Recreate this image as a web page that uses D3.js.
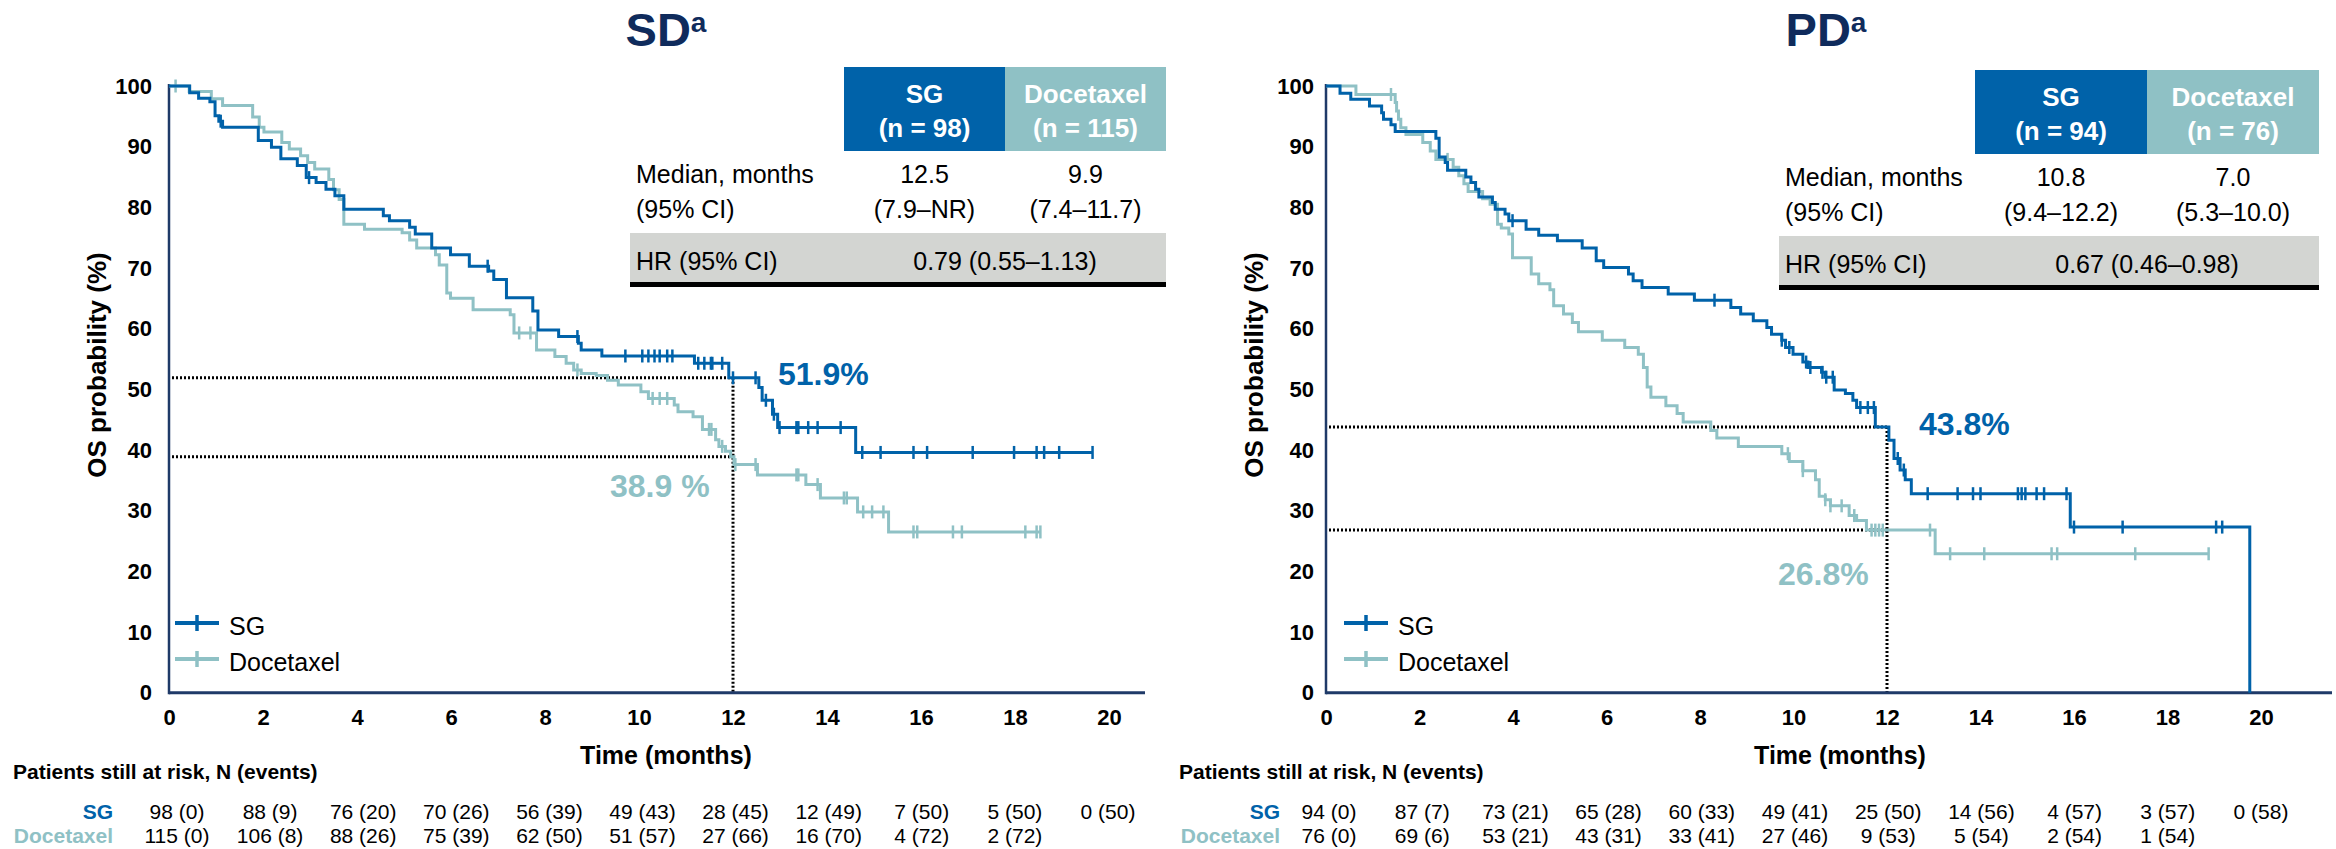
<!DOCTYPE html>
<html>
<head>
<meta charset="utf-8">
<script src="https://cdn.jsdelivr.net/npm/d3@7"></script>
<style>
  body { margin: 0; background: #fff; }
  text { font-family: Arial, "Liberation Sans", sans-serif; }
</style>
</head>
<body>
<svg id="chart" width="2336" height="849"></svg>
<script>
// ---- data ----
const months = [0, 2, 4, 6, 8, 10, 12, 14, 16, 18, 20];
const yTicks = [0, 10, 20, 30, 40, 50, 60, 70, 80, 90, 100];
const arms = ["SG", "Docetaxel"];

// SD panel: Kaplan-Meier steps [month, OS %]
const sdSgSteps = [[0,100],[0.44,98.9],[0.63,98.0],[0.87,97.4],[0.98,95.1],[1.06,94.2],[1.14,93.2],[1.9,91.0],[2.18,89.9],[2.38,88.0],[2.73,86.9],[2.92,84.9],[3.13,84.1],[3.34,83.0],[3.53,81.9],[3.72,79.7],[4.56,78.6],[4.69,77.8],[5.12,76.7],[5.24,75.6],[5.59,73.3],[5.99,72.2],[6.39,70.3],[6.8,69.5],[6.91,68.1],[7.18,65.1],[7.74,62.9],[7.85,59.8],[8.29,58.7],[8.71,57.6],[8.77,56.5],[9.21,55.5],[11.18,54.3],[11.91,51.9],[12.55,50.3],[12.62,48.2],[12.84,45.9],[12.95,43.7],[14.61,39.6]];
const sdSgCensor = [1.1,2.98,6.78,8.69,9.71,10.07,10.2,10.33,10.44,10.6,10.71,11.26,11.39,11.53,11.56,11.77,12.0,12.48,12.7,12.87,12.99,13.35,13.39,13.6,13.8,14.29,14.75,15.14,15.84,16.13,17.1,17.98,18.46,18.62,18.94,19.65];
const sdSgEnd = 19.65;
const sdDocSteps = [[0,100],[0.43,99.1],[0.9,97.9],[1.14,96.8],[1.78,94.9],[1.92,93.2],[2.02,92.4],[2.4,90.7],[2.56,89.6],[2.8,88.5],[2.95,87.4],[3.1,86.3],[3.4,84.6],[3.5,82.9],[3.62,81.3],[3.72,77.2],[4.16,76.4],[4.96,75.8],[5.12,74.6],[5.27,73.3],[5.67,72.2],[5.75,70.5],[5.91,65.9],[5.99,65.0],[6.47,63.1],[7.26,62.3],[7.34,59.3],[7.82,56.5],[8.21,55.4],[8.45,54.3],[8.61,53.2],[8.77,52.6],[9.09,52.3],[9.33,51.5],[9.56,50.7],[10.04,49.6],[10.2,48.5],[10.75,47.4],[10.83,46.3],[11.15,45.5],[11.35,43.4],[11.63,41.7],[11.7,40.6],[11.84,39.8],[11.95,38.9],[12.02,37.6],[12.52,35.9],[13.55,34.3],[13.86,32.1],[14.65,29.8],[15.31,26.5]];
const sdDocCensor = [0.14,7.45,7.69,8.69,10.29,10.44,10.6,11.49,11.54,11.77,12.05,12.48,13.35,13.39,13.8,14.36,14.42,14.77,14.96,15.2,15.84,15.92,16.68,16.87,18.22,18.46,18.54];
const sdDocEnd = 18.54;

// PD panel
const pdSgSteps = [[0,100],[0.3,98.8],[0.53,97.8],[0.93,96.7],[1.19,95.6],[1.23,94.5],[1.39,93.6],[1.48,92.5],[2.35,91.4],[2.42,88.3],[2.55,87.4],[2.6,86.1],[2.99,85.0],[3.1,84.1],[3.2,83.0],[3.27,81.7],[3.56,80.8],[3.62,79.7],[3.83,78.9],[3.91,77.8],[4.28,76.4],[4.55,75.4],[4.95,74.5],[5.48,73.3],[5.78,71.2],[5.94,70.1],[6.47,69.0],[6.57,67.9],[6.76,66.8],[7.32,65.7],[7.88,64.7],[8.66,63.5],[8.87,62.4],[9.14,61.3],[9.43,60.2],[9.53,59.1],[9.75,58.1],[9.83,56.9],[9.99,55.8],[10.2,54.5],[10.31,53.6],[10.6,52.8],[10.68,52.0],[10.87,49.9],[11.11,49.3],[11.27,48.2],[11.35,47.0],[11.75,43.8],[12.04,41.6],[12.15,38.6],[12.28,36.7],[12.39,35.1],[12.52,32.8],[15.92,27.3],[19.76,0]];
const pdSgCensor = [3.99,8.31,9.75,9.91,10.27,10.36,10.62,10.7,10.84,11.43,11.59,11.72,12.23,12.36,12.87,13.51,13.84,14.0,14.8,14.88,14.96,15.2,15.36,15.84,16.0,17.04,19.04,19.17];
const pdSgEnd = null;
const pdDocSteps = [[0,100],[0.64,98.6],[1.48,97.3],[1.51,95.9],[1.55,94.5],[1.6,93.1],[1.71,92.0],[2.07,90.7],[2.23,89.3],[2.35,87.9],[2.72,86.6],[2.84,85.2],[2.95,83.9],[3.04,82.6],[3.35,81.4],[3.51,80.5],[3.67,77.2],[3.75,76.6],[3.91,75.6],[3.99,71.7],[4.39,69.0],[4.55,67.4],[4.79,66.4],[4.87,63.8],[5.08,62.4],[5.27,61.0],[5.4,59.5],[5.91,58.1],[6.39,56.9],[6.68,55.8],[6.79,53.6],[6.87,50.4],[6.95,48.7],[7.27,47.3],[7.51,46.0],[7.64,44.6],[8.23,43.2],[8.36,42.0],[8.82,40.6],[9.75,39.4],[9.91,38.1],[10.2,36.6],[10.47,35.1],[10.55,32.4],[10.68,31.8],[10.79,30.8],[11.19,29.2],[11.35,28.4],[11.56,26.8],[13.03,22.9]];
const pdDocCensor = [1.39,2.6,9.88,10.2,10.68,10.79,11.03,11.3,11.67,11.75,11.83,11.91,12.92,13.35,14.08,15.52,15.64,17.31,18.88];
const pdDocEnd = 18.88;

// 12-month landmark values
const sdLandmark = [51.9, 38.9];
const sdLandmarkLabels = ["51.9%", "38.9 %"];
const pdLandmark = [43.8, 26.8];
const pdLandmarkLabels = ["43.8%", "26.8%"];

// summary tables
const sdHeaderN = ["(n = 98)", "(n = 115)"];
const sdMedian = ["12.5", "9.9"];
const sdMedianCI = ["(7.9–NR)", "(7.4–11.7)"];
const sdHR = "0.79 (0.55–1.13)";
const pdHeaderN = ["(n = 94)", "(n = 76)"];
const pdMedian = ["10.8", "7.0"];
const pdMedianCI = ["(9.4–12.2)", "(5.3–10.0)"];
const pdHR = "0.67 (0.46–0.98)";

// patients at risk
const sdRiskSG = ["98 (0)","88 (9)","76 (20)","70 (26)","56 (39)","49 (43)","28 (45)","12 (49)","7 (50)","5 (50)","0 (50)"];
const sdRiskDoc = ["115 (0)","106 (8)","88 (26)","75 (39)","62 (50)","51 (57)","27 (66)","16 (70)","4 (72)","2 (72)"];
const pdRiskSG = ["94 (0)","87 (7)","73 (21)","65 (28)","60 (33)","49 (41)","25 (50)","14 (56)","4 (57)","3 (57)","0 (58)"];
const pdRiskDoc = ["76 (0)","69 (6)","53 (21)","43 (31)","33 (41)","27 (46)","9 (53)","5 (54)","2 (54)","1 (54)"];

// ---- drawing ----
const SG_COL = "#0062a9", DOC_COL = "#8fc1c5", NAVY = "#0f2b5c", AXIS_COL = "#1f3a68";
const FONT = "Arial, 'Liberation Sans', sans-serif";
const svg = d3.select("#chart");

function stepValue(steps, t) {
    let v = steps[0][1];
    for (const s of steps) if (s[0] <= t) v = s[1];
    return v;
}

function drawPanel(p) {
    const x = d3.scaleLinear().domain([0, 20]).range([p.x0, p.x20]);
    const y = d3.scaleLinear().domain([0, 100]).range([692.7, 86]);
    const g = svg.append("g");

    // title
    const title = g.append("text")
        .attr("x", p.titleX).attr("y", 46)
        .attr("text-anchor", "middle")
        .attr("font-size", 47).attr("font-weight", "bold")
        .attr("fill", NAVY)
        .text(p.title);
    title.append("tspan").attr("dy", -14).attr("font-size", 28).text("a");

    // dotted 12-month reference lines
    const x12 = x(12);
    p.landmark.forEach(v => {
        g.append("line")
            .attr("x1", p.x0 + 3).attr("x2", x12)
            .attr("y1", y(v)).attr("y2", y(v))
            .attr("stroke", "#000").attr("stroke-width", 3)
            .attr("stroke-dasharray", "2,2");
    });
    g.append("line")
        .attr("x1", x12).attr("x2", x12)
        .attr("y1", y(p.landmark[0])).attr("y2", y(0))
        .attr("stroke", "#000").attr("stroke-width", 3)
        .attr("stroke-dasharray", "2,2");

    // axes
    const xAxis = g.append("g")
        .attr("transform", `translate(0,${y(0)})`)
        .call(d3.axisBottom(x).tickValues(months).tickSize(0).tickPadding(17));
    xAxis.select(".domain").remove();
    xAxis.attr("font-family", FONT).attr("font-size", 22).attr("font-weight", "bold");
    xAxis.selectAll("text").attr("fill", "#000");

    const yAxis = g.append("g")
        .attr("transform", `translate(${p.x0},0)`)
        .call(d3.axisLeft(y).tickValues(yTicks).tickSize(0).tickPadding(p.yPad));
    yAxis.select(".domain").remove();
    yAxis.attr("font-family", FONT).attr("font-size", 22).attr("font-weight", "bold");
    yAxis.selectAll("text").attr("fill", "#000");

    g.append("line")
        .attr("x1", p.x0).attr("x2", p.xEnd)
        .attr("y1", y(0)).attr("y2", y(0))
        .attr("stroke", AXIS_COL).attr("stroke-width", 3);
    g.append("line")
        .attr("x1", p.x0).attr("x2", p.x0)
        .attr("y1", y(0) + 1.5).attr("y2", y(100) - 2)
        .attr("stroke", AXIS_COL).attr("stroke-width", 2.5);

    g.append("text")
        .attr("transform", `translate(${p.yLabelX},365) rotate(-90)`)
        .attr("text-anchor", "middle")
        .attr("font-size", 26).attr("font-weight", "bold")
        .text("OS probability (%)");
    g.append("text")
        .attr("x", p.xLabelX).attr("y", 764)
        .attr("text-anchor", "middle")
        .attr("font-size", 25).attr("font-weight", "bold")
        .text("Time (months)");

    // curves
    const line = d3.line().x(d => x(d[0])).y(d => y(d[1])).curve(d3.curveStepAfter);
    p.series.forEach(s => {
        const pts = s.end != null ? s.steps.concat([[s.end, s.steps[s.steps.length - 1][1]]]) : s.steps;
        g.append("path").datum(pts)
            .attr("fill", "none").attr("stroke", s.color).attr("stroke-width", 3)
            .attr("d", line);
        g.selectAll(null).data(s.censor).join("line")
            .attr("x1", d => x(d)).attr("x2", d => x(d))
            .attr("y1", d => y(stepValue(s.steps, d)) - 6.5)
            .attr("y2", d => y(stepValue(s.steps, d)) + 6.5)
            .attr("stroke", s.color).attr("stroke-width", 2.5);
    });

    // landmark labels
    p.landmarkLabels.forEach((t, i) => {
        g.append("text")
            .attr("x", p.lmPos[i][0]).attr("y", p.lmPos[i][1])
            .attr("font-size", 32).attr("font-weight", "bold")
            .attr("fill", i === 0 ? SG_COL : DOC_COL)
            .text(t);
    });

    // legend
    arms.forEach((a, i) => {
        const ly = 623 + i * 36;
        const col = i === 0 ? SG_COL : DOC_COL;
        g.append("line").attr("x1", p.legX).attr("x2", p.legX + 44)
            .attr("y1", ly).attr("y2", ly)
            .attr("stroke", col).attr("stroke-width", 4);
        g.append("line").attr("x1", p.legX + 22).attr("x2", p.legX + 22)
            .attr("y1", ly - 8).attr("y2", ly + 8)
            .attr("stroke", col).attr("stroke-width", 3.5);
        g.append("text").attr("x", p.legX + 54).attr("y", ly + 12)
            .attr("font-size", 25).attr("fill", "#000").text(a);
    });

    // summary table
    const t = p.table, dy = t.dy;
    const colW = t.colW;
    const cols = [t.left, t.left + colW];
    [SG_COL, DOC_COL].forEach((c, i) => {
        g.append("rect").attr("x", cols[i]).attr("y", 67 + dy)
            .attr("width", colW).attr("height", 84).attr("fill", c);
        g.append("text").attr("x", cols[i] + colW / 2).attr("y", 103 + dy)
            .attr("text-anchor", "middle").attr("font-size", 26).attr("font-weight", "bold")
            .attr("fill", "#fff").text(arms[i]);
        g.append("text").attr("x", cols[i] + colW / 2).attr("y", 137 + dy)
            .attr("text-anchor", "middle").attr("font-size", 26).attr("font-weight", "bold")
            .attr("fill", "#fff").text(p.headerN[i]);
        g.append("text").attr("x", cols[i] + colW / 2).attr("y", 183 + dy)
            .attr("text-anchor", "middle").attr("font-size", 25).text(p.median[i]);
        g.append("text").attr("x", cols[i] + colW / 2).attr("y", 218 + dy)
            .attr("text-anchor", "middle").attr("font-size", 25).text(p.medianCI[i]);
    });
    g.append("text").attr("x", t.rowX + 6).attr("y", 183 + dy).attr("font-size", 25).text("Median, months");
    g.append("text").attr("x", t.rowX + 6).attr("y", 218 + dy).attr("font-size", 25).text("(95% CI)");
    g.append("rect").attr("x", t.rowX).attr("y", 233 + dy)
        .attr("width", t.left + 2 * colW - t.rowX).attr("height", 49).attr("fill", "#d3d5d2");
    g.append("rect").attr("x", t.rowX).attr("y", 282 + dy)
        .attr("width", t.left + 2 * colW - t.rowX).attr("height", 5).attr("fill", "#000");
    g.append("text").attr("x", t.rowX + 6).attr("y", 270 + dy).attr("font-size", 25).text("HR (95% CI)");
    g.append("text").attr("x", t.left + colW).attr("y", 270 + dy)
        .attr("text-anchor", "middle").attr("font-size", 25).text(p.hr);

    // patients at risk
    g.append("text").attr("x", p.riskTitleX).attr("y", 779)
        .attr("font-size", 21).attr("font-weight", "bold").text("Patients still at risk, N (events)");
    const rx = d3.scaleLinear().domain([0, 20]).range(p.riskRange);
    [p.riskSG, p.riskDoc].forEach((row, i) => {
        const ry = 819 + i * 24;
        g.append("text").attr("x", p.riskLabelX).attr("y", ry)
            .attr("text-anchor", "end").attr("font-size", 21).attr("font-weight", "bold")
            .attr("fill", i === 0 ? SG_COL : DOC_COL).text(arms[i]);
        g.selectAll(null).data(row).join("text")
            .attr("x", (d, j) => rx(months[j])).attr("y", ry)
            .attr("text-anchor", "middle").attr("font-size", 21).attr("fill", "#000")
            .text(d => d);
    });
}

drawPanel({
    title: "SD", titleX: 666,
    x0: 169, x20: 1109, xEnd: 1145, yPad: 17,
    yLabelX: 106, xLabelX: 666,
    landmark: sdLandmark, landmarkLabels: sdLandmarkLabels,
    lmPos: [[778, 385], [610, 497]],
    legX: 175,
    series: [
        { steps: sdDocSteps, censor: sdDocCensor, end: sdDocEnd, color: DOC_COL },
        { steps: sdSgSteps, censor: sdSgCensor, end: sdSgEnd, color: SG_COL }
    ],
    table: { left: 844, colW: 161, rowX: 630, dy: 0 },
    headerN: sdHeaderN, median: sdMedian, medianCI: sdMedianCI, hr: sdHR,
    riskTitleX: 13, riskLabelX: 113, riskRange: [177, 1108],
    riskSG: sdRiskSG, riskDoc: sdRiskDoc
});

drawPanel({
    title: "PD", titleX: 1826,
    x0: 1326, x20: 2261, xEnd: 2332, yPad: 12,
    yLabelX: 1263, xLabelX: 1840,
    landmark: pdLandmark, landmarkLabels: pdLandmarkLabels,
    lmPos: [[1919, 435], [1778, 585]],
    legX: 1344,
    series: [
        { steps: pdDocSteps, censor: pdDocCensor, end: pdDocEnd, color: DOC_COL },
        { steps: pdSgSteps, censor: pdSgCensor, end: pdSgEnd, color: SG_COL }
    ],
    table: { left: 1975, colW: 172, rowX: 1779, dy: 3 },
    headerN: pdHeaderN, median: pdMedian, medianCI: pdMedianCI, hr: pdHR,
    riskTitleX: 1179, riskLabelX: 1280, riskRange: [1329, 2261],
    riskSG: pdRiskSG, riskDoc: pdRiskDoc
});
</script>
</body>
</html>
